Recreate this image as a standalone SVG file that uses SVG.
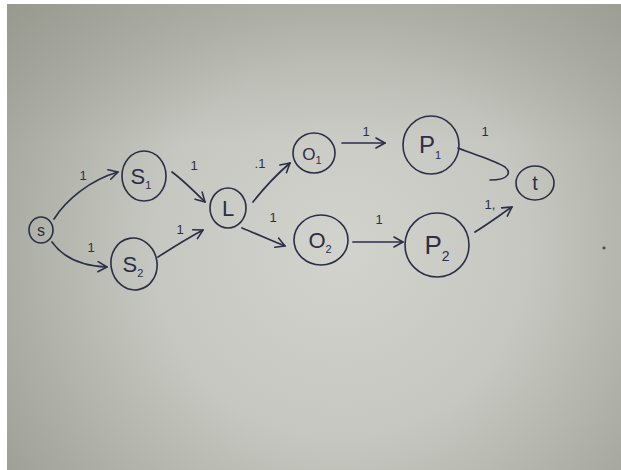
<svg xmlns="http://www.w3.org/2000/svg" width="621" height="470" viewBox="0 0 621 470">
  <defs>
    <radialGradient id="paper" cx="340" cy="250" r="420" gradientUnits="userSpaceOnUse">
      <stop offset="0" stop-color="#d3d3cd"/>
      <stop offset="0.45" stop-color="#c6c7c0"/>
      <stop offset="1" stop-color="#9b9d93"/>
    </radialGradient>
    <linearGradient id="shade" x1="0" y1="0" x2="0" y2="1">
      <stop offset="0" stop-color="#8f9187" stop-opacity="0.35"/>
      <stop offset="0.3" stop-color="#8f9187" stop-opacity="0"/>
      <stop offset="1" stop-color="#8f9187" stop-opacity="0"/>
    </linearGradient>
    <marker id="head" viewBox="0 0 12 12" refX="10" refY="6" markerWidth="12" markerHeight="12" markerUnits="userSpaceOnUse" orient="auto">
      <path d="M1,1 L10,6 L1,11" fill="none" stroke="#2b2e48" stroke-width="1.6" stroke-linecap="round" stroke-linejoin="round"/>
    </marker>
    <style>
      .ink { fill: none; stroke: #2b2e48; stroke-width: 1.6; stroke-linecap: round; stroke-linejoin: round; }
      .edge { fill: none; stroke: #2b2e48; stroke-width: 1.7; stroke-linecap: round; marker-end: url(#head); }
      .name { font-family: "Liberation Sans", "DejaVu Sans", sans-serif; font-size: 22px; fill: #2b2e48; text-anchor: middle; }
      .sub { font-size: 11px; }
      .w { font-family: "Liberation Sans", "DejaVu Sans", sans-serif; font-size: 13px; fill: #2b2e48; text-anchor: middle; }
    </style>
  </defs>

  <!-- paper -->
  <rect x="0" y="0" width="621" height="470" fill="#ffffff"/>
  <rect x="7" y="4" width="614" height="466" fill="url(#paper)"/>
  <rect x="7" y="4" width="614" height="466" fill="url(#shade)"/>
  <ellipse cx="604" cy="248" rx="1.6" ry="1.4" fill="#4a4c55"/>

  <!-- connectors -->
  <g id="edges">
    <path class="edge" d="M54,219 C66,200 90,180 118,172"/>
    <path class="edge" d="M52,242 C62,256 80,266 107,267"/>
    <path class="edge" d="M172,172 C183,180 194,191 205,202"/>
    <path class="edge" d="M158,257 C172,248 188,238 203,230"/>
    <path class="edge" d="M253,202 C264,188 276,175 290,163"/>
    <path class="edge" d="M242,228 C257,234 270,240 285,246"/>
    <path class="edge" d="M342,143 L385,143"/>
    <path class="edge" d="M353,242 L403,242"/>
    <path class="ink" d="M458,148 C475,155 494,160 505,167 C511,172 510,180 490,180"/>
    <path class="edge" d="M475,232 C488,224 500,215 512,207"/>
    <!-- weights -->
    <text class="w" x="83" y="180">1</text>
    <text class="w" x="91" y="252">1</text>
    <text class="w" x="194" y="170">1</text>
    <text class="w" x="180" y="234">1</text>
    <text class="w" x="260" y="168">.1</text>
    <text class="w" x="273" y="222">1</text>
    <text class="w" x="366" y="136">1</text>
    <text class="w" x="379" y="224">1</text>
    <text class="w" x="485" y="136">1</text>
    <text class="w" x="490" y="209">1,</text>
  </g>

  <!-- nodes -->
  <g id="node-s">
    <ellipse class="ink" cx="41" cy="230" rx="12" ry="13"/>
    <text class="name" x="41" y="236" style="font-size:16px">s</text>
  </g>
  <g id="node-s1">
    <ellipse class="ink" cx="144" cy="176" rx="22" ry="25"/>
    <text class="name" x="141" y="184">S<tspan class="sub" dy="5">1</tspan></text>
  </g>
  <g id="node-s2">
    <ellipse class="ink" cx="134" cy="264" rx="23" ry="26" transform="rotate(-10 134 264)"/>
    <text class="name" x="133" y="272">S<tspan class="sub" dy="5">2</tspan></text>
  </g>
  <g id="node-l">
    <ellipse class="ink" cx="228" cy="208" rx="18" ry="20"/>
    <text class="name" x="228" y="216">L</text>
  </g>
  <g id="node-o1">
    <ellipse class="ink" cx="314" cy="153" rx="21" ry="20"/>
    <text class="name" x="312" y="160" style="font-size:17px">O<tspan class="sub" dy="4">1</tspan></text>
  </g>
  <g id="node-o2">
    <ellipse class="ink" cx="321" cy="240" rx="27" ry="25"/>
    <text class="name" x="320" y="248">O<tspan class="sub" dy="5">2</tspan></text>
  </g>
  <g id="node-p1">
    <ellipse class="ink" cx="431" cy="145" rx="28" ry="29"/>
    <text class="name" x="430" y="153" style="font-size:24px">P<tspan class="sub" dy="6">1</tspan></text>
  </g>
  <g id="node-p2">
    <ellipse class="ink" cx="437" cy="245" rx="32" ry="32"/>
    <text class="name" x="437" y="254" style="font-size:26px">P<tspan class="sub" dy="7" style="font-size:14px">2</tspan></text>
  </g>
  <g id="node-t">
    <ellipse class="ink" cx="535" cy="183" rx="19" ry="17"/>
    <text class="name" x="535" y="190" style="font-size:20px">t</text>
  </g>
</svg>
